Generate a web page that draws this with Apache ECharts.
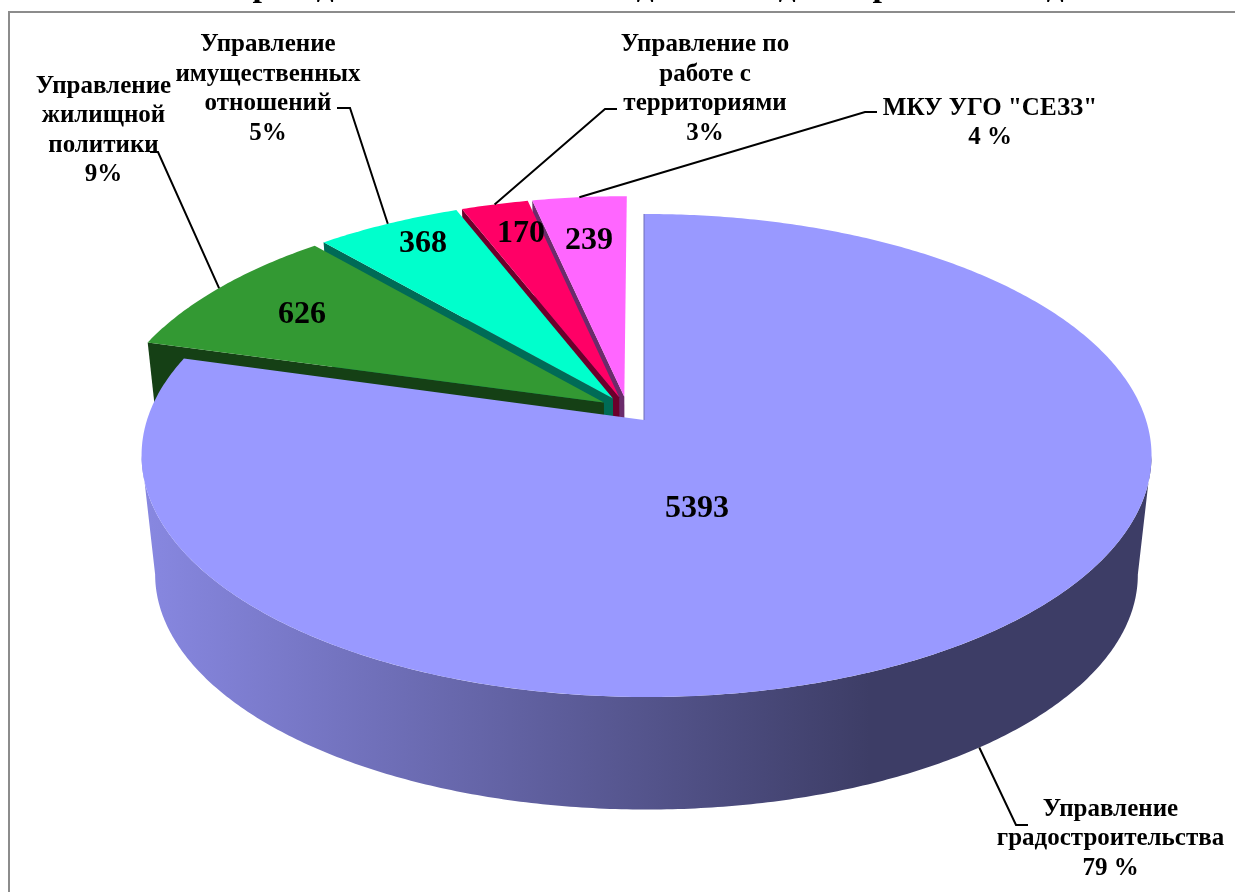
<!DOCTYPE html>
<html>
<head>
<meta charset="utf-8">
<style>html,body{margin:0;padding:0;background:#fff}#chart{width:1235px;height:892px}</style>
<script src="https://cdn.jsdelivr.net/npm/echarts@6/dist/echarts.min.js"></script>
</head>
<body>
<div id="chart"></div>
<script>
// ---- data ----
const categories = ['Управление\nградостроительства', 'Управление\nжилищной\nполитики', 'Управление\nимущественных\nотношений', 'Управление по\nработе с\nтерриториями', 'МКУ УГО "СЕЗЗ"'];
const values = [5393, 626, 368, 170, 239];
const percentLabels = ['79 %', '9%', '5%', '3%', '4 %'];
const titleFragments = ['р', 'д', 'д', 'д', 'р', 'д'];

// ---- styles & layout (not data) ----
const topColors = ['#9999FF', '#339933', '#00FFCC', '#FF0066', '#FF66FF'];
const wallColors = ['#3D3D66', '#154015', '#006B56', '#6B002B', '#6B2B6B'];
const titleFragmentX = [262, 325, 645, 787, 882, 1055];
const valueLabelAt = [[697, 506], [302, 312], [423, 241], [521, 231], [589, 238]];
const nameLabelAt = [[1110.5, 839], [103.5, 130.5], [268, 89], [705, 89], [990, 123]];
const leaderBends = [[[1016, 825], [1028, 825]], [[158, 152], [150, 152]], [[350, 108], [337, 108]], [[605, 109], [617, 109]], [[865, 112], [877, 112]]];
const FONT = '"Liberation Serif","Times New Roman",serif';

// Perspective projection of the pie's plane (unit disc) to the screen.
const P = {x0: 644, y0: 420, R: 499.5, S: 236.3, k: 0.147, lowScale: 0.973, lowY: 540, explode: 0.056, rimShift: 0.005};
function project(u, v, low) {
  const d = 1 + P.k * v, m = low ? P.lowScale : 1;
  return [P.x0 + m * P.R * u / d, (low ? P.lowY : P.y0) - m * P.S * v / d];
}
const total = values.reduce((a, b) => a + b, 0);
const slices = [];
let acc = 0;
values.forEach(function (val) {
  const a0 = acc / total * 2 * Math.PI;
  acc += val;
  slices.push({a0: a0, a1: acc / total * 2 * Math.PI});
});
slices.forEach(function (s) { s.mid = (s.a0 + s.a1) / 2; });
const base = slices[0].mid;
slices.forEach(function (s, i) {
  s.cu = P.explode * (Math.sin(s.mid) - Math.sin(base));
  s.cv = P.explode * (Math.cos(s.mid) - Math.cos(base));
  s.ru = i === 0 ? s.cu + P.rimShift : s.cu;
});
function rim(s, a, low) { return project(s.ru + Math.sin(a), s.cv + Math.cos(a), low); }
function arcPts(s, a0, a1, low) {
  const n = Math.max(2, Math.ceil(Math.abs(a1 - a0) / 0.01)), pts = [];
  for (let i = 0; i <= n; i++) pts.push(rim(s, a0 + (a1 - a0) * i / n, low));
  return pts;
}

function renderSlice(params, api) {
  const val = api.value(0);
  const i = values.length - 1 - params.dataIndex;
  const s = slices[i];
  const kids = [];
  const apexTop = project(s.cu, s.cv, false);
  const apexLow = project(s.cu, s.cv, true);
  if (i === 0) {
    // outer side, between the two silhouette angles
    const ar = Math.PI - Math.asin(Math.sqrt(1 - P.k * P.k));
    const al = 2 * Math.PI - ar;
    const side = arcPts(s, ar, al, false).concat(arcPts(s, al, ar, true));
    kids.push({type: 'polygon', shape: {points: side}, style: {
      fill: {type: 'linear', x: 150, y: 0, x2: 870, y2: 0, global: true,
        colorStops: [{offset: 0, color: '#8787E0'}, {offset: 1, color: wallColors[0]}]}}});
  } else {
    const c0Top = rim(s, s.a0, false), c0Low = rim(s, s.a0, true);
    kids.push({type: 'polygon', shape: {points: [apexTop, c0Top, c0Low, apexLow]}, style: {fill: wallColors[i]}});
  }
  const top = [apexTop];
  const edgeTop = project(s.cu, s.cv + 1, false);
  if (i === 0) top.push(edgeTop);
  kids.push({type: 'polygon', shape: {points: top.concat(arcPts(s, s.a0, s.a1, false))}, style: {fill: topColors[i]}});
  if (i === 0) {
    kids.push({type: 'line', shape: {x1: apexTop[0], y1: apexTop[1], x2: edgeTop[0], y2: edgeTop[1]},
      style: {stroke: '#6F6FB8', lineWidth: 1}});
  }
  // leader line: starts on the rim at the slice's bisector
  const start = rim(s, s.mid, i === 0);
  kids.push({type: 'polyline', shape: {points: [start].concat(leaderBends[i])},
    style: {stroke: '#000', lineWidth: 2, fill: null}});
  // name & percent label
  kids.push({type: 'text', style: {text: categories[i] + '\n' + percentLabels[i],
    x: nameLabelAt[i][0], y: nameLabelAt[i][1], align: 'center', verticalAlign: 'middle',
    font: 'bold 25px ' + FONT, lineHeight: 29.5, fill: '#000'}});
  // value label
  kids.push({type: 'text', style: {text: String(val),
    x: valueLabelAt[i][0], y: valueLabelAt[i][1] + 3, align: 'center', verticalAlign: 'middle',
    font: 'bold 32px ' + FONT, fill: '#000'}});
  return {type: 'group', children: kids};
}

const chart = echarts.init(document.getElementById('chart'), null, {renderer: 'canvas'});
chart.setOption({
  backgroundColor: '#ffffff',
  animation: false,
  graphic: [
    {type: 'line', silent: true, shape: {x1: 9, y1: 12, x2: 9, y2: 892}, style: {stroke: '#8C8C8C', lineWidth: 2}},
    {type: 'line', silent: true, shape: {x1: 8, y1: 12, x2: 1235, y2: 12}, style: {stroke: '#8C8C8C', lineWidth: 2}}
  ].concat(titleFragments.map(function (t, i) {
    return {type: 'text', silent: true, style: {text: t, x: titleFragmentX[i], y: -13, align: 'center', verticalAlign: 'middle',
      font: 'bold 34px ' + FONT, fill: '#000'}};
  })),
  series: [{
    type: 'custom',
    coordinateSystem: 'none',
    renderItem: renderSlice,
    data: values.map(function (v, i) { return {name: categories[i], value: [v]}; }).reverse()
  }]
});
</script>
</body>
</html>
